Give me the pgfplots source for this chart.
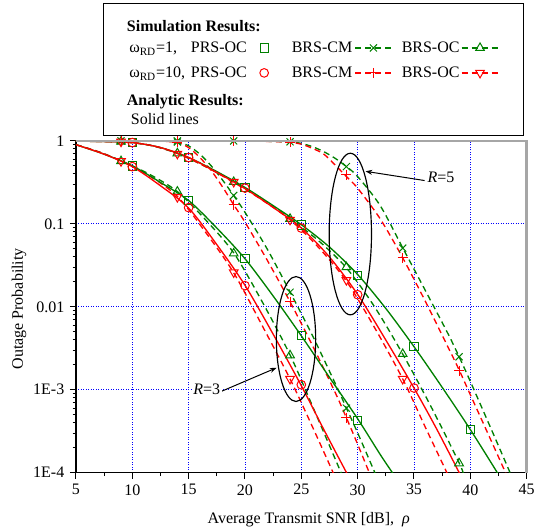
\documentclass[border=0pt]{standalone}
\usepackage{fontspec}
\setmainfont{Liberation Serif}
\usepackage{pgfplots}
\pgfplotsset{compat=1.18}
\usetikzlibrary{arrows.meta}

\definecolor{ggreen}{RGB}{0,128,0}
\definecolor{rred}{RGB}{255,0,0}

\pgfplotsset{
  gsolid/.style={ggreen, line width=0.8pt, no markers, smooth, forget plot},
  rsolid/.style={rred, line width=0.8pt, no markers, smooth, forget plot},
  gdash/.style={ggreen, line width=0.8pt, dash pattern=on 3.6pt off 2.4pt, no markers, smooth, forget plot},
  rdash/.style={rred, line width=0.8pt, dash pattern=on 3.6pt off 2.4pt, no markers, smooth, forget plot},
  gmk/.style={ggreen, only marks, line width=0.6pt, forget plot},
  rmk/.style={rred, only marks, line width=0.6pt, forget plot},
  % invisible boxes set the row heights of the legend
  legH/.style={legend image code/.code={\path[draw=none, fill=none] (0pt,-3pt) rectangle (0pt,17.4pt);}},
  legA/.style={legend image code/.code={\path[draw=none, fill=none] (0pt,-2pt) rectangle (0pt,10.6pt);}},
  legS/.style={legend image code/.code={\path[draw=none, fill=none] (0pt,-6.4pt) rectangle (0pt,8pt);}},
  leg1/.style={legend image code/.code={\path[draw=none, fill=none] (-8pt,-5pt) rectangle (14.6pt,9.2pt);
      \draw[ggreen, line width=0.6pt, fill=none] plot[mark=square, mark size=2.5pt] coordinates {(0pt,3pt)};}},
  leg2/.style={legend image code/.code={\path[draw=none, fill=none] (0pt,-5pt) rectangle (27pt,9.2pt);
      \draw[ggreen, line width=0.8pt, dash pattern=on 3.6pt off 2.4pt] (1pt,3pt) -- (23pt,3pt);
      \draw[ggreen, line width=0.6pt, fill=none] plot[mark=x, mark size=3pt] coordinates {(12pt,3pt)};}},
  leg3/.style={legend image code/.code={\path[draw=none, fill=none] (0pt,-5pt) rectangle (24pt,9.2pt);
      \draw[ggreen, line width=0.8pt, dash pattern=on 3.6pt off 2.4pt] (1pt,3pt) -- (23pt,3pt);
      \draw[ggreen, line width=0.6pt, fill=white] plot[mark=triangle, mark size=3pt] coordinates {(12pt,3pt)};}},
  leg4/.style={legend image code/.code={\path[draw=none, fill=none] (-8pt,-6pt) rectangle (14.6pt,10pt);
      \draw[rred, line width=0.6pt, fill=none] plot[mark=o, mark size=2.6pt] coordinates {(0pt,3pt)};}},
  leg5/.style={legend image code/.code={\path[draw=none, fill=none] (0pt,-6pt) rectangle (27pt,10pt);
      \draw[rred, line width=0.8pt, dash pattern=on 3.6pt off 2.4pt] (1pt,3pt) -- (23pt,3pt);
      \draw[rred, line width=0.6pt, fill=none] plot[mark=+, mark size=3pt] coordinates {(12pt,3pt)};}},
  leg6/.style={legend image code/.code={\path[draw=none, fill=none] (0pt,-6pt) rectangle (24pt,10pt);
      \draw[rred, line width=0.8pt, dash pattern=on 3.6pt off 2.4pt] (1pt,3pt) -- (23pt,3pt);
      \draw[rred, line width=0.6pt, fill=white] plot[mark=triangle, mark size=3pt, mark options={rotate=180}] coordinates {(12pt,3pt)};}},
}

\begin{document}
\fontsize{9.6}{11.5}\selectfont
\begin{tikzpicture}[font=\fontsize{9.6}{11.5}\selectfont]
\path (-45.6pt,-35.4pt) rectangle (278.4pt,283.8pt);
\begin{axis}[
  at={(0,0)}, anchor=south west,
  scale only axis, width=270.6pt, height=199.2pt,
  xmin=5, xmax=45, ymode=log, ymin=1e-4, ymax=1,
  xtick={5,10,...,45}, minor x tick num=1,
  ytick={1e-4,1e-3,1e-2,1e-1,1},
  yticklabels={\textrm{1E-4},\textrm{1E-3},\textrm{0.01},\textrm{0.1},\textrm{1}},
  axis x line*=bottom, axis y line*=left,
  axis line style={-, black, line width=0.9pt},
  tick pos=left, tick align=outside,
  major tick length=3.6pt, minor tick length=2pt,
  tick style={black, line width=0.6pt},
  grid=major,
  grid style={blue, line width=0.5pt, dash pattern=on 0.6pt off 0.9pt},
  /pgf/number format/assume math mode=true,
  xlabel={Average Transmit SNR [dB],\ \ \textit{ρ}},
  ylabel={Outage Probability},
  xlabel style={at={(axis description cs:0.5166,-0.1521)}, anchor=base},
  ylabel style={at={(axis description cs:-0.1264,0.494)}, anchor=center},
  legend columns=3, legend plot pos=right,
  legend style={at={(axis description cs:0.05913,1.01606)}, anchor=south west,
    draw=black, fill=white, inner xsep=13.8pt, inner ysep=0pt,
    row sep=0pt, column sep=0pt,
    cells={anchor=base west},
    font=\fontsize{9.6}{11.5}\selectfont},
]

% ---- R = 3, BRS-CM (dashed)
\addplot[gdash] coordinates {(5,1) (10,0.999) (12,0.995) (13,0.99) (14,0.973) (15,0.871) (16,0.692) (17,0.501) (18,0.339) (19,0.219) (20,0.138) (22,0.049) (24,0.0151) (26,0.00447) (28,0.00120) (29,6.03e-4) (30,3.02e-4) (31.6,9.5e-5)};
\addplot[rdash] coordinates {(5,1) (10,0.999) (12,0.993) (13,0.985) (14,0.96) (15,0.83) (16,0.63) (17,0.44) (18,0.28) (19,0.17) (20,0.105) (22,0.036) (24,0.0115) (26,0.0034) (28,9.3e-4) (29,4.6e-4) (30,2.2e-4) (31.1,9.5e-5)};
% ---- R = 3, BRS-OC (dashed)
\addplot[gdash] coordinates {(5,0.90) (7,0.741) (9,0.575) (11.5,0.398) (14,0.245) (16.5,0.112) (19,0.0447) (21.5,0.0117) (24,0.00263) (26,6.31e-4) (28.6,9.5e-5)};
\addplot[rdash] coordinates {(5,0.90) (7,0.741) (9,0.575) (11.5,0.380) (14,0.214) (16.5,0.0794) (19,0.0257) (21.5,0.00603) (24,0.00135) (26,3.55e-4) (27.9,9.5e-5)};
% ---- R = 5, BRS-CM (dashed)
\addplot[gdash] coordinates {(5,1) (20,0.995) (22,0.989) (23,0.982) (24,0.973) (25,0.933) (26,0.851) (27,0.741) (28,0.617) (29,0.490) (30,0.372) (32,0.166) (34,0.0513) (36,0.0158) (38,0.00479) (39,0.00251) (40,0.00126) (42,3.02e-4) (43.6,9.5e-5)};
\addplot[rdash] coordinates {(5,1) (20,0.995) (22,0.986) (23,0.977) (24,0.966) (25,0.912) (26,0.813) (27,0.692) (28,0.513) (29,0.372) (30,0.269) (32,0.115) (34,0.0389) (36,0.0117) (38,0.00331) (39,0.00174) (40,8.71e-4) (42,2.19e-4) (43.2,9.5e-5)};
% ---- R = 5, BRS-OC (dashed)
\addplot[gdash] coordinates {(5,0.993) (9,0.973) (11.5,0.891) (14,0.708) (16.5,0.490) (19,0.324) (21.5,0.200) (24,0.115) (26.5,0.0631) (29,0.0295) (31.5,0.0100) (34,0.00269) (36.5,6.31e-4) (39,1.32e-4) (39.4,9.5e-5)};
\addplot[rdash] coordinates {(5,0.993) (9,0.973) (11.5,0.891) (14,0.708) (16.5,0.490) (19,0.316) (21.5,0.195) (24,0.112) (26.5,0.0525) (29,0.0204) (31.5,0.00562) (34,0.00135) (36,3.55e-4) (38,9.5e-5)};

% ---- PRS-OC analytic (solid)
\addplot[gsolid] coordinates {(5,0.90) (7.5,0.692) (10,0.501) (12.5,0.316) (15,0.191) (17.5,0.0891) (20,0.0380) (22.5,0.0135) (25,0.00447) (27.5,0.00141) (30,4.47e-4) (32,1.66e-4) (33.2,9.5e-5)};
\addplot[rsolid] coordinates {(5,0.90) (7.5,0.692) (10,0.490) (12.5,0.288) (15,0.155) (17.5,0.0562) (20,0.0182) (22.5,0.00468) (25,0.00112) (27,3.31e-4) (29.1,9.5e-5)};
\addplot[gsolid] coordinates {(5,0.993) (7.5,0.982) (10,0.955) (12.5,0.832) (15,0.631) (17.5,0.427) (20,0.275) (22.5,0.166) (25,0.0977) (27.5,0.0525) (30,0.0245) (32.5,0.00955) (35,0.00331) (37.5,0.00107) (40,3.31e-4) (42.5,9.5e-5)};
\addplot[rsolid] coordinates {(5,0.993) (7.5,0.982) (10,0.955) (12.5,0.832) (15,0.631) (17.5,0.417) (20,0.266) (22.5,0.158) (25,0.0891) (27.5,0.0398) (30,0.0141) (32.5,0.00398) (35,0.00105) (37,3.39e-4) (39.1,9.5e-5)};

% ---- simulation markers
\addplot[gmk, mark=square, mark size=2.5pt] coordinates {(10,0.50) (15,0.19) (20,0.038) (25,0.0045) (30,4.3e-4) (10,0.955) (15,0.63) (20,0.275) (25,0.097) (30,0.024) (35,0.0033) (40,3.3e-4)};
\addplot[gmk, mark=triangle, mark size=3pt] coordinates {(9,0.57) (14,0.245) (19,0.044) (24,0.0026) (9,0.98) (14,0.71) (19,0.32) (24,0.115) (29,0.03) (34,0.0027) (39,1.3e-4)};
\addplot[gmk, mark=x, mark size=3pt] coordinates {(9,1) (14,0.97) (19,0.22) (24,0.015) (29,6e-4) (14,1) (19,1) (24,0.975) (29,0.49) (34,0.051) (39,0.0025)};
\addplot[rmk, mark=o, mark size=2.6pt] coordinates {(10,0.49) (15,0.157) (20,0.018) (25,0.00115) (10,0.955) (15,0.63) (20,0.27) (25,0.089) (30,0.014) (35,0.00105)};
\addplot[rmk, mark=triangle, mark size=3pt, mark options={rotate=180}] coordinates {(9,0.57) (14,0.21) (19,0.026) (24,0.00135) (9,0.98) (14,0.70) (19,0.32) (24,0.112) (29,0.021) (34,0.00135)};
\addplot[rmk, mark=+, mark size=3pt] coordinates {(9,1) (14,0.96) (19,0.17) (24,0.0115) (29,4.6e-4) (14,1) (19,1) (24,0.97) (29,0.39) (34,0.039) (39,0.0017)};

% ---- annotations
\draw[black, line width=0.7pt] (axis cs:24.53,0.00409) ellipse [x radius=11.8pt, y radius=37.5pt];
\draw[black, line width=0.7pt] (axis cs:29.35,0.0754) ellipse [x radius=12.7pt, y radius=48.5pt];
\draw[-{Stealth[length=4pt,width=3pt]}, line width=0.6pt] (axis cs:17.85,9.5e-4) -- (axis cs:22.8,0.00184);
\draw[-{Stealth[length=4pt,width=3pt]}, line width=0.6pt] (axis cs:35.94,0.333) -- (axis cs:30.7,0.43);
\node[fill=white, inner sep=1pt] at (axis cs:16.6,1e-3) {\textit{R}=3};
\node[fill=white, inner sep=1pt] at (axis cs:37.4,0.368) {\textit{R}=5};

% ---- legend (text boxes have no height; the images fix rows and columns)
\addlegendimage{legH}
\addlegendentry{\smash{\makebox[0pt][l]{\hspace{-1.4pt}\textbf{Simulation Results:}}}}
\addlegendimage{empty legend}\addlegendentry{}
\addlegendimage{empty legend}\addlegendentry{}
\addlegendimage{leg1}
\addlegendentry{\smash{\makebox[71pt][l]{\makebox[37pt][l]{ω\textsubscript{RD}=1,}PRS-OC}}}
\addlegendimage{leg2}
\addlegendentry{\smash{\makebox[35pt][l]{BRS-CM}}}
\addlegendimage{leg3}
\addlegendentry{\smash{\makebox[33pt][l]{BRS-OC}}}
\addlegendimage{leg4}
\addlegendentry{\smash{\makebox[71pt][l]{\makebox[37pt][l]{ω\textsubscript{RD}=10,}PRS-OC}}}
\addlegendimage{leg5}
\addlegendentry{\smash{\makebox[35pt][l]{BRS-CM}}}
\addlegendimage{leg6}
\addlegendentry{\smash{\makebox[33pt][l]{BRS-OC}}}
\addlegendimage{legA}
\addlegendentry{\smash{\makebox[0pt][l]{\hspace{-1.4pt}\textbf{Analytic Results:}}}}
\addlegendimage{empty legend}\addlegendentry{}
\addlegendimage{empty legend}\addlegendentry{}
\addlegendimage{legS}
\addlegendentry{\smash{\makebox[0pt][l]{\hspace{1pt}Solid lines}}}
\addlegendimage{empty legend}\addlegendentry{}
\addlegendimage{empty legend}\addlegendentry{}
\end{axis}
\draw[gray!70, line width=1.5pt] (0pt,199.2pt) -- (270.6pt,199.2pt) -- (270.6pt,0pt);
\end{tikzpicture}
\end{document}
